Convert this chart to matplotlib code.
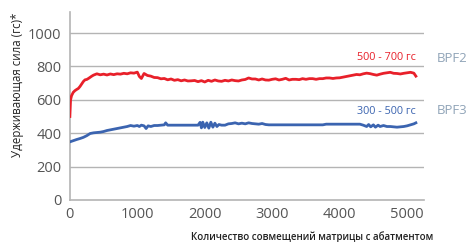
import matplotlib
matplotlib.use("Agg")
import matplotlib.pyplot as plt

plt.rcParams['font.family'] = ['Open Sans', 'DejaVu Sans']

# BPF2 (red) series
red_x = [0, 10, 25, 50, 75, 100, 125, 150, 175, 200, 225, 250, 275, 300, 325, 350, 375, 400,
         450, 500, 550, 600, 650, 700, 750, 800, 850, 900, 950, 1000, 1030, 1060, 1100, 1150,
         1200, 1250, 1300, 1350, 1400, 1450, 1500, 1550, 1600, 1650, 1700, 1750, 1800, 1850,
         1900, 1950, 2000, 2050, 2100, 2150, 2200, 2250, 2300, 2350, 2400, 2450, 2500, 2550,
         2600, 2650, 2700, 2750, 2800, 2850, 2900, 2950, 3000, 3050, 3100, 3150, 3200, 3250,
         3300, 3350, 3400, 3450, 3500, 3550, 3600, 3650, 3700, 3750, 3800, 3850, 3900, 3950,
         4000, 4050, 4100, 4150, 4200, 4250, 4300, 4350, 4400, 4450, 4500, 4550, 4600, 4650,
         4700, 4750, 4800, 4850, 4900, 4950, 5000, 5050, 5100, 5130]
red_y = [500, 600, 625, 645, 655, 662, 668, 680, 695, 710, 720, 722, 728, 735, 742, 748, 752, 756,
         750, 754, 749, 755, 751, 756, 754, 759, 756, 762, 760, 766, 740, 728, 758, 746,
         742, 734, 733, 726, 728, 720, 725, 717, 721, 714, 719, 713, 714, 716,
         709, 715, 707, 717, 711, 719, 713, 711, 717, 713, 719, 715, 713, 719,
         722, 731, 725, 725, 719, 725, 719, 718, 723, 726, 719, 723, 729, 719,
         723, 723, 721, 727, 723, 727, 727, 723, 727, 727, 731, 731, 728, 731,
         732, 736, 740, 744, 748, 752, 750, 756, 760, 757, 752, 748, 754, 759,
         762, 765, 759, 758, 755, 759, 762, 765, 760, 742]

# BPF3 (blue) series
blue_x = [0, 50, 100, 150, 200, 250, 300, 350, 400, 450, 500, 550, 600, 650, 700, 750, 800, 850,
          900, 950, 1000, 1030, 1060, 1100, 1130, 1160, 1200, 1250, 1300, 1350, 1400, 1420, 1450,
          1500, 1600, 1700, 1800, 1900, 1930, 1950, 1970, 2000, 2030, 2060, 2090, 2120, 2150,
          2180, 2210, 2250, 2300, 2350, 2400, 2450, 2500, 2550, 2600, 2650, 2700, 2750, 2800,
          2850, 2900, 2950, 3000, 3200, 3400, 3600, 3750, 3800, 4000, 4200, 4300, 4350, 4400,
          4430, 4460, 4500, 4530, 4570, 4600, 4650, 4700, 4750, 4800, 4850, 4900, 4950, 5000,
          5050, 5100, 5130]
blue_y = [348, 355, 362, 368, 375, 385, 398, 402, 404, 406, 410, 416, 420, 424, 428, 432, 436, 440,
          446, 442, 446, 440, 448, 444, 428, 444, 440, 446, 446, 448, 450, 462, 448,
          448, 448, 448, 448, 448, 465, 432, 466, 434, 462, 430, 466, 436, 460,
          440, 452, 448, 448, 456, 458, 462, 456, 460, 456, 462, 458, 456, 454,
          458, 452, 450, 450, 450, 450, 450, 450, 454, 454, 454, 454, 448, 440,
          452, 438, 450, 436, 448, 440, 446, 440, 440, 438, 436, 438, 440, 444,
          450, 456, 462]

y_ticks = [0, 200, 400, 600, 800, 1000]
x_ticks = [0, 1000, 2000, 3000, 4000, 5000]

fig = plt.figure(figsize=(4.69, 2.42), dpi=100)
ax = fig.add_axes([0.149, 0.174, 0.755, 0.776])

grid_c = '#b4b4b4'
for yv in y_ticks[1:]:
    ax.axhline(yv, color=grid_c, lw=1.0, zorder=1)

ax.plot(red_x, red_y, color='#e8202a', lw=2.0, zorder=3, solid_joinstyle='round')
ax.plot(blue_x, blue_y, color='#3b64b0', lw=2.0, zorder=3, solid_joinstyle='round')

ax.set_xlim(0, 5250)
ax.set_ylim(0, 1126)
ax.set_xticks(x_ticks)
ax.set_yticks(y_ticks)
ax.tick_params(length=0, labelsize=10.5, colors='#555555', pad=5)
ax.tick_params(axis='y', pad=6)
for s in ['top', 'right']:
    ax.spines[s].set_visible(False)
for s in ['left', 'bottom']:
    ax.spines[s].set_color(grid_c)
    ax.spines[s].set_linewidth(1.2)

fig.text(18/469, 1 - 85/242, 'Удерживающая сила (гс)*', fontsize=8.3, color='#222222',
         rotation=90, ha='center', va='center')
fig.text(312/469, 1 - 237/242, 'Количество совмещений матрицы с абатментом', fontsize=7,
         color='#222222', ha='center', va='center', fontweight='semibold')

fig.text(416/469, 1 - 58/242, '500 - 700 гс', fontsize=7.8, color='#e8202a', ha='right', va='center')
fig.text(416/469, 1 - 111/242, '300 - 500 гс', fontsize=7.8, color='#3b64b0', ha='right', va='center')
fig.text(437/469, 1 - 58/242, 'BPF2', fontsize=9.5, color='#90a4b8', ha='left', va='center')
fig.text(437/469, 1 - 111/242, 'BPF3', fontsize=9.5, color='#90a4b8', ha='left', va='center')

fig.savefig('out.png', dpi=100)
